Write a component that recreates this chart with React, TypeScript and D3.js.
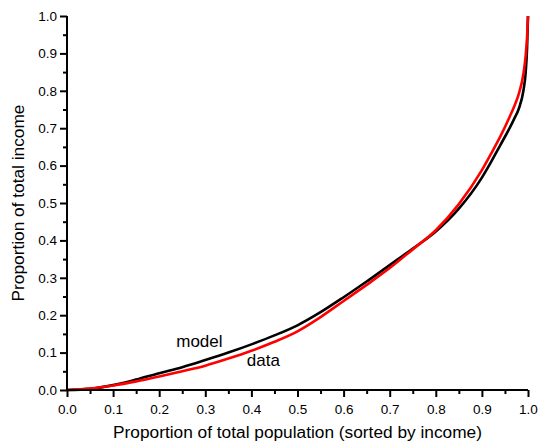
import React, { useEffect, useRef } from "react";
import * as d3 from "d3";

// proportion of population (sorted by income)
const popShare = [
  0, 0.05, 0.1, 0.15, 0.2, 0.25, 0.3, 0.35, 0.4, 0.45, 0.5, 0.55, 0.6, 0.65,
  0.7, 0.75, 0.8, 0.85, 0.9, 0.92, 0.94, 0.96, 0.97, 0.98, 0.99, 0.995, 0.998, 1,
];

// Lorenz curve, model
const modelIncome = [
  0, 0.003, 0.013, 0.028, 0.045, 0.061, 0.08, 0.1, 0.122, 0.146, 0.173, 0.208,
  0.248, 0.29, 0.334, 0.378, 0.424, 0.485, 0.568, 0.61, 0.655, 0.7, 0.725,
  0.752, 0.8, 0.85, 0.915, 1,
];

// Lorenz curve, data
const dataIncome = [
  0, 0.004, 0.012, 0.023, 0.036, 0.05, 0.065, 0.084, 0.105, 0.129, 0.157,
  0.195, 0.238, 0.281, 0.326, 0.376, 0.427, 0.497, 0.588, 0.632, 0.678, 0.73,
  0.758, 0.792, 0.845, 0.895, 0.945, 1,
];

const majorTicks = [0, 0.1, 0.2, 0.3, 0.4, 0.5, 0.6, 0.7, 0.8, 0.9, 1.0];
const minorTicks = [0.05, 0.15, 0.25, 0.35, 0.45, 0.55, 0.65, 0.75, 0.85, 0.95];

const App = () => {
  const ref = useRef<SVGSVGElement>(null);

  useEffect(() => {
    const width = 538;
    const height = 442;
    const margin = { top: 16, right: 10, bottom: 52, left: 67 };
    const font = "'Liberation Sans', Arial, sans-serif";

    const svg = d3.select(ref.current);
    svg.selectAll("*").remove();

    const x = d3
      .scaleLinear()
      .domain([0, 1])
      .range([margin.left, width - margin.right]);
    const y = d3
      .scaleLinear()
      .domain([0, 1])
      .range([height - margin.bottom, margin.top]);

    const line = (vals: number[]) =>
      d3
        .line<number>()
        .x((_, i) => x(popShare[i]))
        .y((d) => y(d))
        .curve(d3.curveMonotoneX)(vals);

    svg.append("path")
      .attr("d", line(modelIncome))
      .attr("fill", "none")
      .attr("stroke", "#000")
      .attr("stroke-width", 2.6);

    svg.append("path")
      .attr("d", line(dataIncome))
      .attr("fill", "none")
      .attr("stroke", "#ff0000")
      .attr("stroke-width", 2.6);

    // x axis
    const gx = svg.append("g")
      .attr("transform", `translate(0,${height - margin.bottom})`);
    gx.call(
      d3.axisBottom(x).tickValues(majorTicks).tickSize(7).tickFormat(d3.format(".1f"))
    );
    gx.append("g").call(d3.axisBottom(x).tickValues(minorTicks).tickSize(4).tickFormat(() => ""));

    // y axis
    const gy = svg.append("g").attr("transform", `translate(${margin.left},0)`);
    gy.call(
      d3.axisLeft(y).tickValues(majorTicks).tickSize(7).tickFormat(d3.format(".1f"))
    );
    gy.append("g").call(d3.axisLeft(y).tickValues(minorTicks).tickSize(4).tickFormat(() => ""));

    svg.selectAll(".domain").attr("stroke", "#000").attr("stroke-width", 2);
    svg.selectAll(".tick line").attr("stroke", "#000").attr("stroke-width", 2);
    svg.selectAll(".tick text")
      .attr("font-family", font)
      .attr("font-size", 13.5)
      .attr("fill", "#000");
    gx.selectAll(".tick text").attr("dy", "0.71em").attr("y", 14);
    gy.selectAll(".tick text").attr("x", -10);
    // plain axis lines without end caps
    gx.selectAll(".domain").attr("d", `M${x(0)},0H${x(1)}`);
    gy.selectAll(".domain").attr("d", `M0,${y(0)}V${y(1)}`);

    // axis titles
    svg.append("text")
      .attr("x", (x(0) + x(1)) / 2 + 0)
      .attr("y", 438)
      .attr("text-anchor", "middle")
      .attr("font-family", font)
      .attr("font-size", 17.3)
      .text("Proportion of total population (sorted by income)");

    svg.append("text")
      .attr("transform", `translate(24,${(y(0) + y(1)) / 2}) rotate(-90)`)
      .attr("text-anchor", "middle")
      .attr("font-family", font)
      .attr("font-size", 17.3)
      .text("Proportion of total income");

    // curve labels
    svg.append("text")
      .attr("x", x(0.237))
      .attr("y", y(0.116))
      .attr("font-family", font)
      .attr("font-size", 17)
      .text("model");

    svg.append("text")
      .attr("x", x(0.39))
      .attr("y", y(0.065))
      .attr("font-family", font)
      .attr("font-size", 17)
      .text("data");
  }, []);

  return (
    <svg
      ref={ref}
      width={538}
      height={442}
      style={{ position: "absolute", left: 0, top: 0, background: "#fff" }}
    />
  );
};

export default App;
